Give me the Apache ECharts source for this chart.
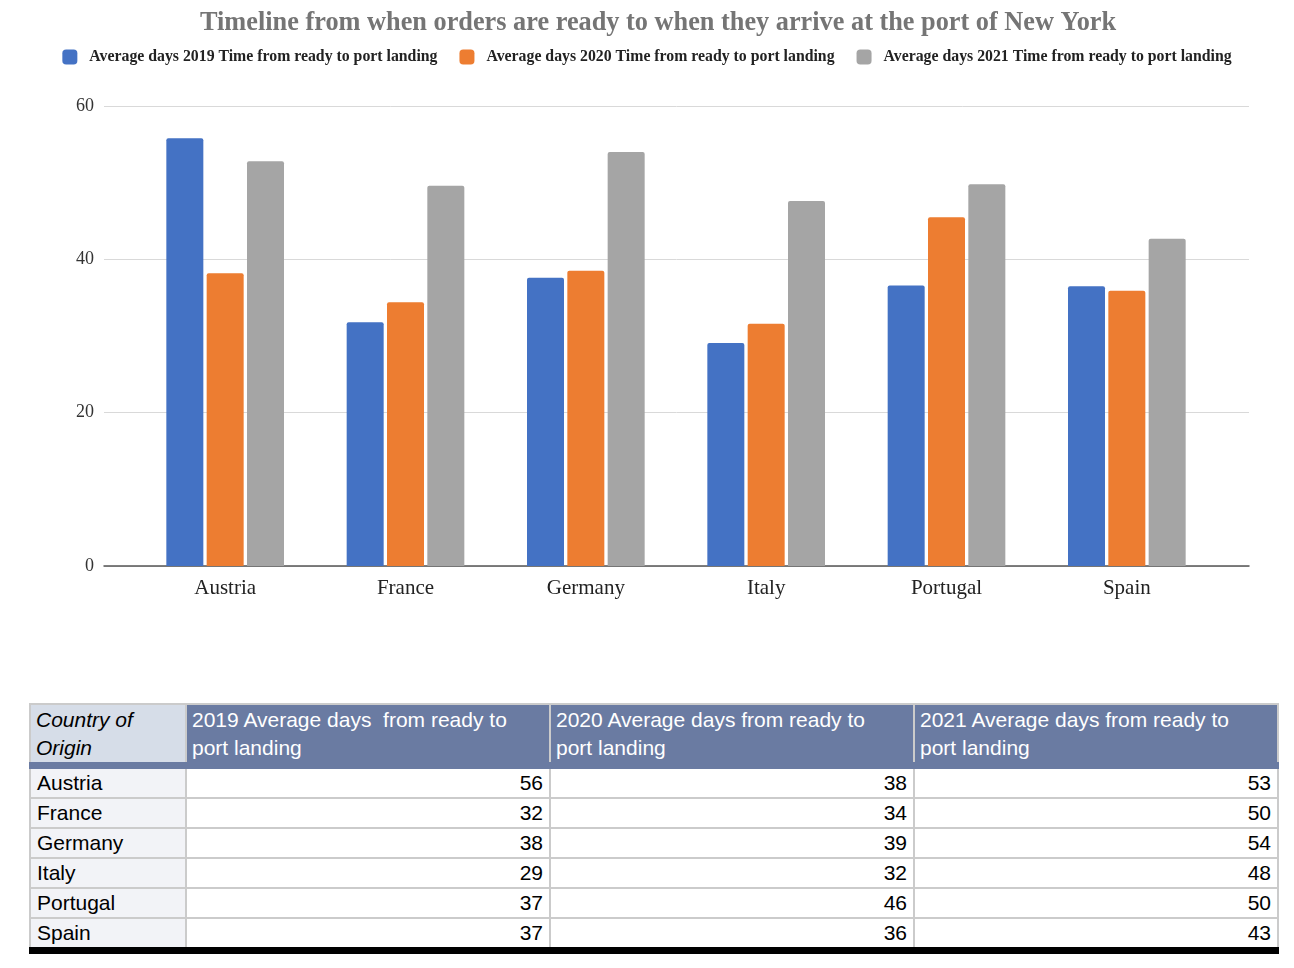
<!DOCTYPE html>
<html>
<head>
<meta charset="utf-8">
<script src="https://cdn.jsdelivr.net/npm/echarts@6/dist/echarts.min.js"></script>
<style>
  body { margin: 0; background: #fff; }
  #chart { position: absolute; left: 0; top: 0; width: 1294px; height: 640px; }
  #tbl {
    position: absolute; left: 29px; top: 703px; width: 1248px;
    border-collapse: collapse; table-layout: fixed;
    font-family: "Liberation Sans", Arial, sans-serif; font-size: 21px; color: #000;
  }
  #tbl th, #tbl td { border: 2px solid #cbcbcb; padding: 0 6px; line-height: 28px; overflow: hidden; }
  #tbl th { font-weight: normal; text-align: left; vertical-align: top; white-space: pre-wrap;
            background: #6a7ba2; color: #fff; border-bottom: 7px solid #6a7ba2; border-left-color: #c9cdd8; padding: 1px 5px 0 5px; }
  #tbl th.first { background: #d6dde8; color: #000; font-style: italic; border-left-color: #cbcbcb; }
  #tbl td { text-align: right; white-space: nowrap; }
  #tbl td.first { text-align: left; background: #f2f3f7; }
  #tbl tr.last td { border-bottom: 7px solid #000; }
</style>
</head>
<body>
<div id="chart"></div>
<table id="tbl"></table>
<script>
// ---- data ----
const categories = ['Austria', 'France', 'Germany', 'Italy', 'Portugal', 'Spain'];
const seriesNames = [
  'Average days 2019 Time from ready to port landing',
  'Average days 2020 Time from ready to port landing',
  'Average days 2021 Time from ready to port landing'
];
const values2019 = [55.8, 31.8, 37.6, 29.1, 36.6, 36.5];
const values2020 = [38.2, 34.4, 38.5, 31.6, 45.5, 35.9];
const values2021 = [52.8, 49.6, 54.0, 47.6, 49.8, 42.7];
const yMin = 0, yMax = 60, yInterval = 20;
const titleText = 'Timeline from when orders are ready to when they arrive at the port of New York';

const tableHeaders = [
  'Country of\nOrigin',
  '2019 Average days  from ready to\nport landing',
  '2020 Average days from ready to\nport landing',
  '2021 Average days from ready to\nport landing'
];
const table2019 = [56, 32, 38, 29, 37, 37];
const table2020 = [38, 34, 39, 32, 46, 36];
const table2021 = [53, 50, 54, 48, 50, 43];

// ---- chart ----
const colors = ['#4472c4', '#ed7d31', '#a5a5a5'];
const serif = '"Liberation Serif", "Times New Roman", serif';
const chart = echarts.init(document.getElementById('chart'));
const seriesData = [values2019, values2020, values2021];
chart.setOption({
  animation: false,
  color: colors,
  title: {
    text: titleText, left: 195, top: 5,
    textStyle: { fontFamily: serif, fontWeight: 'bold', fontSize: 26.3, color: '#757575' }
  },
  legend: {
    top: 44, left: 'center', itemWidth: 15, itemHeight: 15, itemGap: 22, icon: 'roundRect',
    textStyle: { fontFamily: serif, fontWeight: 'bold', fontSize: 15.8, color: '#222', padding: [0, 0, 0, 7] }
  },
  grid: [
    { left: 104, right: 45, top: 106, height: 460 },
    { left: 135, right: 77, top: 106, height: 460 }
  ],
  xAxis: [
    { gridIndex: 0, type: 'value', min: 0, max: 1,
      axisLine: { show: true, lineStyle: { color: '#555', width: 1.5 } },
      axisTick: { show: false }, axisLabel: { show: false }, splitLine: { show: false } },
    { gridIndex: 1, type: 'category', data: categories,
      axisLine: { show: false }, axisTick: { show: false },
      axisLabel: { fontFamily: serif, fontSize: 21, color: '#222', margin: 12 } }
  ],
  yAxis: [
    { gridIndex: 0, type: 'value', min: yMin, max: yMax, interval: yInterval,
      axisLine: { show: false }, axisTick: { show: false },
      axisLabel: { fontFamily: serif, fontSize: 18, color: '#333', margin: 10 },
      splitLine: { lineStyle: { color: '#d9d9d9', width: 1 } } },
    { gridIndex: 1, type: 'value', min: yMin, max: yMax, interval: yInterval, show: false,
      splitLine: { show: false } }
  ],
  series: seriesNames.map((name, i) => ({
    name, type: 'bar', xAxisIndex: 1, yAxisIndex: 1,
    data: seriesData[i], barWidth: 37, barGap: '9%',
    itemStyle: { borderRadius: [2, 2, 0, 0] }
  }))
});

// ---- table ----
const tbl = document.getElementById('tbl');
let html = '<colgroup><col style="width:156px"><col style="width:364px"><col style="width:364px"><col style="width:364px"></colgroup>';
html += '<tr>' + tableHeaders.map((h, i) => `<th class="${i === 0 ? 'first' : ''}">${h}</th>`).join('') + '</tr>';
categories.forEach((c, r) => {
  html += `<tr class="${r === categories.length - 1 ? 'last' : ''}"><td class="first">${c}</td><td>${table2019[r]}</td><td>${table2020[r]}</td><td>${table2021[r]}</td></tr>`;
});
tbl.innerHTML = html;
</script>
</body>
</html>
